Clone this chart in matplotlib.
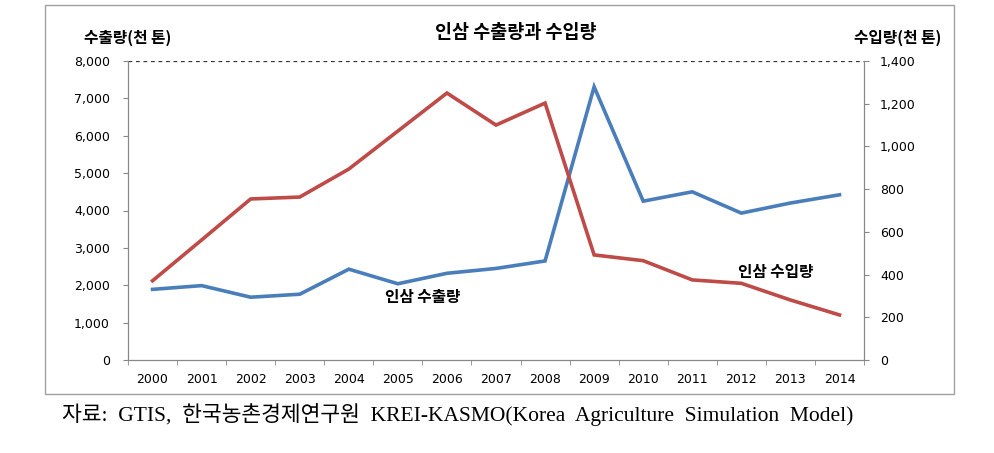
import matplotlib.pyplot as plt
import matplotlib.patches as mpatches
import numpy as np

plt.rcParams['font.family'] = ['Noto Sans CJK KR', 'DejaVu Sans']

# 데이터
years = ['2000', '2001', '2002', '2003', '2004', '2005', '2006', '2007',
         '2008', '2009', '2010', '2011', '2012', '2013', '2014']
export_qty = [1890, 1990, 1680, 1760, 2430, 2040, 2320, 2450,
              2650, 7310, 4250, 4500, 3930, 4200, 4420]
import_qty = [371, 562, 754, 763, 894, 1072, 1250, 1100,
              1203, 492, 465, 375, 359, 281, 211]

left_ticks = [0, 1000, 2000, 3000, 4000, 5000, 6000, 7000, 8000]
right_ticks = [0, 200, 400, 600, 800, 1000, 1200, 1400]

blue = '#4a7ebb'
red = '#be4b48'
gray = '#888888'

fig = plt.figure(figsize=(9.95, 4.53), dpi=100)

# 차트 테두리
frame = mpatches.Rectangle((45 / 995, 1 - 394 / 453), (954 - 45) / 995, (394 - 5) / 453,
                           transform=fig.transFigure, fill=False,
                           edgecolor='#a0a0a0', linewidth=1.0)
fig.patches.append(frame)

ax = fig.add_axes([128 / 995, 1 - 360 / 453, (864 - 128) / 995, (360 - 61) / 453])
ax2 = ax.twinx()

x = np.arange(len(years))
ax.plot(x, export_qty, color=blue, linewidth=2.6, solid_joinstyle='miter')
ax2.plot(x, import_qty, color=red, linewidth=2.6, solid_joinstyle='miter')

ax.set_xlim(-0.5, len(years) - 0.5)
ax.set_ylim(0, 8000)
ax2.set_ylim(0, 1400)

tick_font = {'family': 'DejaVu Sans', 'size': 9}
ax.set_yticks(left_ticks)
ax.set_yticklabels([f'{v:,}' for v in left_ticks], fontdict=tick_font)
ax2.set_yticks(right_ticks)
ax2.set_yticklabels([f'{v:,}' for v in right_ticks], fontdict=tick_font)

ax.set_xticks(x)
ax.set_xticklabels(years, fontdict=tick_font)
ax.set_xticks(np.arange(-0.5, len(years)), minor=True)
ax.tick_params(axis='x', which='major', length=0, pad=9.5)
ax.tick_params(axis='x', which='minor', length=3.6, color=gray)
ax.tick_params(axis='y', length=3.6, color=gray, pad=9.4)
ax2.tick_params(axis='y', length=3.6, color=gray, pad=8)

# 상단 점선 격자
ax.axhline(8000, color='#333333', linestyle=(0, (3, 3)), linewidth=0.9)

for a in (ax, ax2):
    a.spines['top'].set_visible(False)
    a.spines['left'].set_color(gray)
    a.spines['right'].set_color(gray)
    a.spines['bottom'].set_color(gray)

# 텍스트
fig.text(516 / 995, 1 - 32 / 453, '인삼 수출량과 수입량', ha='center', va='center',
         fontsize=13.3, fontweight='bold')
fig.text(84 / 995, 1 - 38 / 453, '수출량(천 톤)', ha='left', va='center',
         fontsize=11.3, fontweight='bold')
fig.text(941 / 995, 1 - 38 / 453, '수입량(천 톤)', ha='right', va='center',
         fontsize=11.3, fontweight='bold')
ax.text(5.5, 1690, '인삼 수출량', ha='center', va='center',
        fontsize=11.3, fontweight='bold')
ax2.text(12.7, 412, '인삼 수입량', ha='center', va='center',
         fontsize=11.3, fontweight='bold')

fig.text(62 / 995, 1 - 415 / 453,
         '자료:  GTIS,  한국농촌경제연구원  KREI-KASMO(Korea  Agriculture  Simulation  Model)',
         ha='left', va='center', fontsize=15.5,
         family=['Liberation Serif', 'Noto Sans CJK KR'])

fig.savefig('out.png', dpi=100)
